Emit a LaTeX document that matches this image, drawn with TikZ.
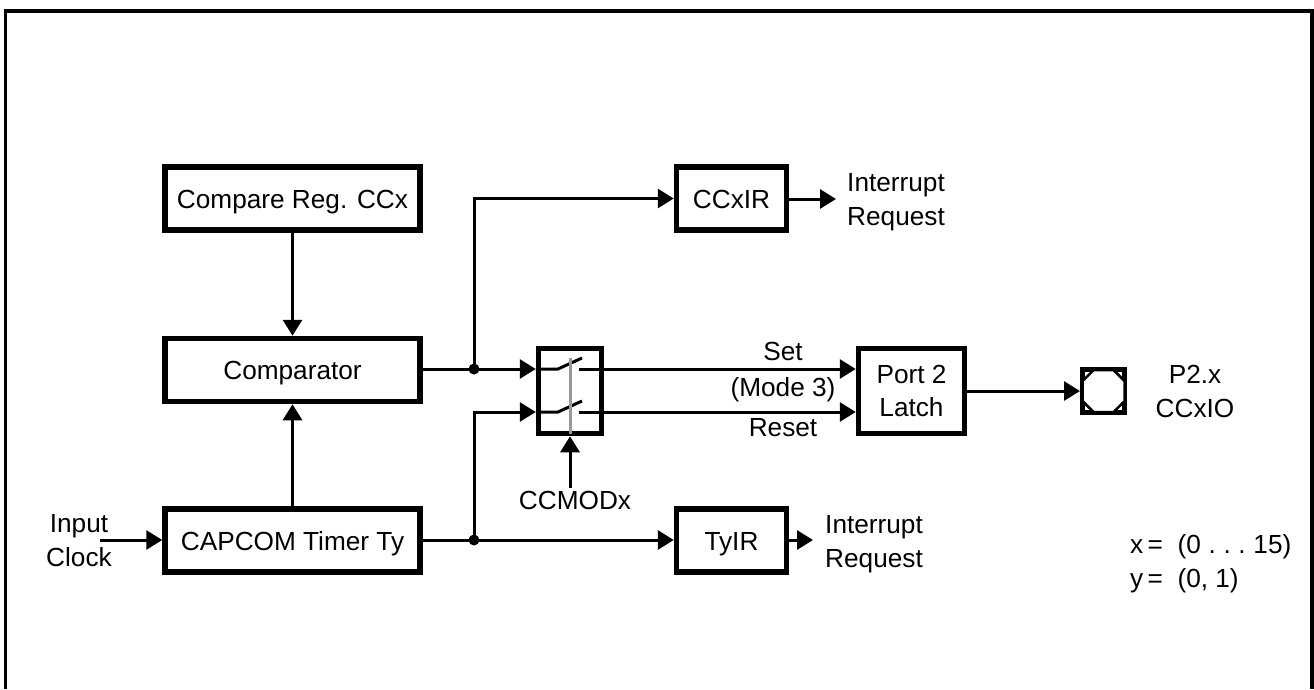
\documentclass[tikz,border=0pt]{standalone}
\usepackage{fontspec}
\setmainfont{Liberation Sans}
\usepackage{xcolor}
\definecolor{rodGray}{gray}{0.6}
\usetikzlibrary{calc,arrows.meta}
\tikzset{
  blockbox/.style={draw, line width=5.5pt, inner sep=0pt, minimum width=#1, minimum height=63pt, align=center,
    font=\fontsize{26.2pt}{33pt}\selectfont, text height=19pt, text depth=0pt},
  lbl/.style={inner sep=0pt, align=center, font=\fontsize{26.2pt}{34pt}\selectfont},
  wire/.style={line width=3pt},
  flow/.style={wire, -{Triangle[length=16pt,width=19pt]}}
}

\begin{document}
\begin{tikzpicture}[x=1pt,y=-1pt]
  \useasboundingbox (0,0) rectangle (1314,689);
  % outer frame
  \draw[line width=3.5pt] (5.5,689) -- (5.5,11) -- (1312,11) -- (1312,689);
  % left column
  \node[blockbox=255pt] (cmpreg) at (292.5,198.5) {Compare Reg. CCx};
  \node[blockbox=255pt] (comparator) at (292.5,370) {Comparator};
  \node[blockbox=255pt] (timer) at (292.5,540.5) {CAPCOM Timer Ty};
  % interrupt flags
  \node[blockbox=110pt] (ccxir) at (731.5,198.5) {CCxIR};
  \node[blockbox=110pt] (tyir) at (731.5,540.5) {TyIR};
  % switch and latch
  \node[draw, line width=5.5pt, minimum width=63pt, minimum height=85pt, inner sep=0pt] (switch) at (570,391) {};
  \node[blockbox=106pt, minimum height=85pt, text height=, text depth=] (latch) at (911.5,391) {Port 2\\Latch};
  % pad
  \node[draw, line width=5pt, minimum width=42pt, minimum height=43pt, inner sep=0pt] (pad) at (1103.5,391) {};
  \draw[line width=2.5pt, fill=white] ($(pad.center)+(-10,-21)$) -- ($(pad.center)+(10,-21)$) -- ($(pad.center)+(21,-10)$)
    -- ($(pad.center)+(21,10)$) -- ($(pad.center)+(10,21)$) -- ($(pad.center)+(-10,21)$) -- ($(pad.center)+(-21,10)$) -- ($(pad.center)+(-21,-10)$) -- cycle;
  % free ends and junctions
  \coordinate (setin) at (switch.west |- 0,369);
  \coordinate (resetin) at (switch.west |- 0,412);
  \coordinate (clkin) at (100,540);
  \coordinate (jcomp) at (474,369);
  \coordinate (jtimer) at (474,540);
  \coordinate (irqa) at (836,199);
  \coordinate (irqb) at (813,540);
  \coordinate (modein) at (570,488);
  % connectors
  \draw[flow] (cmpreg) -- (comparator);
  \draw[flow] (timer) -- (comparator);
  \draw[flow] (clkin) -- (timer.west |- clkin);
  \draw[wire] (comparator.east |- jcomp) -- (jcomp);
  \draw[flow] (jcomp) -- (setin);
  \draw[flow] (jcomp) |- (ccxir);
  \draw[flow] (ccxir.east |- irqa) -- (irqa);
  \draw[flow] (timer.east |- jtimer) -- (tyir.west |- jtimer);
  \draw[flow] (tyir.east |- irqb) -- (irqb);
  \draw[flow] (jtimer) |- (resetin);
  \draw[flow] (latch) -- (pad);
  \draw[flow] (modein) -- (switch.south);
  \fill (jcomp) circle (5.5pt);
  \fill (jtimer) circle (5.5pt);
  % switch contacts
  \draw[wire] (setin) -- (558,369) -- (582,358);
  \draw[wire] (resetin) -- (558,412) -- (582,401);
  \draw[flow] (579,369) -- (latch.west |- 0,369);
  \draw[flow] (579,412) -- (latch.west |- 0,412);
  \draw[rodGray, line width=3pt] (570,358) -- (570,434);
  % labels
  \node[lbl] (clklbl) at (79,541) {Input\\Clock};
  \node[lbl] (irqalbl) at (896,202.5) {Interrupt\\Request};
  \node[lbl] (irqblbl) at (874,544) {Interrupt\\Request};
  \node[lbl] (setlbl) at (783,351) {Set};
  \node[lbl] (modelbl) at (783,390) {(Mode 3)};
  \node[lbl] (resetlbl) at (783,428) {Reset};
  \node[lbl] (modxlbl) at (575,500) {CCMODx};
  \node[lbl] (padlbl) at (1195,391) {P2.x\\CCxIO};
  \node[lbl, anchor=west] (xlbl) at (1130,547) {x\,=\ \ (0\hspace{7.7pt}.\hspace{7.7pt}.\hspace{7.7pt}.\hspace{7.7pt}15)};
  \node[lbl, anchor=west] (ylbl) at (1130,581) {y\,=\ \ (0, 1)};
\end{tikzpicture}
\end{document}
